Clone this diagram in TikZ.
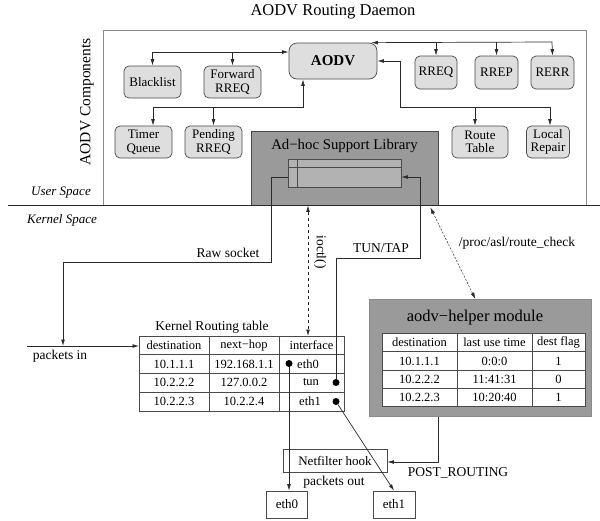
\documentclass[tikz,border=0pt]{standalone}
\usepackage{fontspec}
\setmainfont{Liberation Serif}
\usetikzlibrary{arrows.meta}
\definecolor{compfill}{HTML}{DEDEDE}
\definecolor{compline}{HTML}{4A4A4A}
\definecolor{darkfill}{HTML}{9A9A9A}
\definecolor{innerfill}{HTML}{B2B2B2}
\definecolor{framecol}{HTML}{8A8A8A}
\definecolor{linecol}{HTML}{2A2A2A}
\begin{document}
\begin{tikzpicture}[x=1pt,y=-1pt,
  >={Latex[length=6.5pt,width=3.8pt]},
  txt/.style={font=\fontsize{13.5}{15}\selectfont, inner sep=0pt},
  cell/.style={font=\fontsize{12.5}{14}\selectfont, inner sep=0pt},
  comp/.style={draw=compline, fill=compfill, rounded corners=5pt, line width=0.7pt,
    minimum height=32pt, align=center, inner sep=0pt, font=\fontsize{13}{13.5}\selectfont},
  plainbox/.style={draw=compline, fill=white, line width=0.7pt, inner sep=0pt,
    font=\fontsize{13}{14}\selectfont},
  conn/.style={draw=linecol, line width=0.7pt},
  dot/.style={circle, fill=black, inner sep=0pt, minimum size=7pt},
  gridline/.style={draw=compline, line width=0.7pt}
]
\useasboundingbox (0,0) rectangle (600,520);

% title and frame
\node[font=\fontsize{16.5}{18}\selectfont, inner sep=0pt] (title) at (333,12) {AODV Routing Daemon};
\draw[framecol, line width=0.8pt] (103,205) -- (103,30) -- (586,30) -- (586,205);
\node[rotate=90, font=\fontsize{15.5}{17}\selectfont, inner sep=0pt] (comps) at (87,102) {AODV Components};
\node[txt, font=\itshape\fontsize{13}{15}\selectfont] (us) at (61,193) {User Space};
\node[txt, font=\itshape\fontsize{13}{15}\selectfont] (ks) at (62,220) {Kernel Space};

% AODV components
\node[comp, rounded corners=8pt, minimum width=88pt, minimum height=36pt, font=\bfseries\fontsize{15}{16}\selectfont] (aodv) at (333,61) {AODV};
\node[comp, minimum width=57pt] (black) at (152.5,82) {Blacklist};
\node[comp, minimum width=57pt] (fwd) at (232.5,82) {Forward\\RREQ};
\node[comp, minimum width=57pt] (timer) at (143.5,142) {Timer\\Queue};
\node[comp, minimum width=57pt] (pend) at (213.5,142) {Pending\\RREQ};
\node[comp, minimum width=42pt, minimum height=33pt] (rreq) at (436,72.5) {RREQ};
\node[comp, minimum width=43pt, minimum height=33pt] (rrep) at (496.5,72.5) {RREP};
\node[comp, minimum width=43pt, minimum height=33pt] (rerr) at (552.5,72.5) {RERR};
\node[comp, minimum width=56pt] (rtab) at (480,142) {Route\\Table};
\node[comp, minimum width=43pt] (lrep) at (548,142) {Local\\Repair};

% component connectors
\coordinate (j1) at (153,52);
\draw[conn,<->] (black.north) |- ([yshift=9pt]aodv.west);
\draw[conn,->] (fwd.north |- j1) -- (fwd.north);
\coordinate (j2) at (153,107);
\coordinate (j3) at (303,107);
\draw[conn,<->] (timer.north -| j2) -- (j2) -- (j3) -- (aodv.south -| j3);
\draw[conn,->] (pend.north |- j2) -- (pend.north);
\coordinate (j4) at (552,42);
\draw[conn,<->] ([xshift=-6pt]aodv.north east) -- (j4) -- (rerr.north);
\draw[conn,->] (rreq.north |- j4) -- (rreq.north);
\draw[conn,->] (rrep.north |- j4) -- (rrep.north);
\coordinate (j5) at (400,107);
\coordinate (j6) at (550,107);
\draw[conn,<->] (aodv.east) -| (j5) -- (j6) -- (lrep.north -| j6);
\draw[conn,->] ([xshift=-5pt]rtab.north |- j5) -- ([xshift=-5pt]rtab.north);

% Ad-hoc support library
\node[draw=compline, fill=darkfill, line width=0.7pt, minimum width=187pt, minimum height=74pt, inner sep=0pt] (asl) at (344.5,168) {};
\node[txt, font=\fontsize{14.8}{16}\selectfont] (asltxt) at (344.5,145.5) {Ad−hoc Support Library};
\node[draw=compline, fill=innerfill, line width=0.7pt, minimum width=113pt, minimum height=28pt, inner sep=0pt] (buf) at (344.5,173) {};
\draw[gridline] ([xshift=10pt]buf.north west) -- ([xshift=10pt]buf.south west);
\draw[gridline] ([yshift=-9pt]buf.north west) -- ([yshift=-9pt]buf.north east);

% user/kernel separator
\draw[linecol, line width=0.8pt] (8,205) -- (600,205);

% kernel routing table
\node[txt] (ktitle) at (212,327) {Kernel Routing table};
\node[draw=compline, fill=white, line width=0.7pt, anchor=north west, minimum width=205pt, minimum height=75pt, inner sep=0pt] (ktab) at (139,336) {};
\draw[gridline] (209,336) -- (209,411);
\draw[gridline] (279,336) -- (279,411);
\draw[gridline] (139,354.5) -- (344,354.5);
\draw[gridline] (139,373) -- (344,373);
\draw[gridline] (139,392) -- (344,392);
\node[cell] (k01) at (174,345.5) {destination};
\node[cell] (k02) at (244,345.5) {next−hop};
\node[cell] (k03) at (311.5,345.5) {interface};
\node[cell] (k11) at (174,364) {10.1.1.1};
\node[cell] (k12) at (244,364) {192.168.1.1};
\node[cell] (k13) at (308,364) {eth0};
\node[cell] (k21) at (174,382.5) {10.2.2.2};
\node[cell] (k22) at (244,382.5) {127.0.0.2};
\node[cell] (k23) at (311,382.5) {tun};
\node[cell] (k31) at (174,401.5) {10.2.2.3};
\node[cell] (k32) at (244,401.5) {10.2.2.4};
\node[cell] (k33) at (310,401.5) {eth1};
\node[dot] (kd1) at (289,363.5) {};
\node[dot] (kd2) at (336,382.5) {};
\node[dot] (kd3) at (336,401.5) {};

% raw socket path
\coordinate (pin) at (63,346);
\coordinate (r1) at (271,262);
\draw[conn,->] ([yshift=-4pt]buf.west) -| (r1) -| (pin);
\node[txt] (rawlbl) at (228,253) {Raw socket};
\coordinate (pstart) at (27,346);
\draw[conn,->] (pstart) -- (pstart -| ktab.west);
\node[txt] (pinlbl) at (60,356) {packets in};

% TUN/TAP path
\coordinate (t1) at (420,258);
\draw[conn,->] (kd2) |- (t1) |- ([yshift=-4pt]buf.east);
\node[txt] (tunlbl) at (381,248) {TUN/TAP};

% ioctl
\draw[conn,<->,dashed] ([xshift=-36.5pt]asl.south) -- ([xshift=-36.5pt]asl.south |- ktab.north);
\node[txt, rotate=-90] (ioctl) at (320,252) {ioctl()};

% aodv-helper module
\node[draw=framecol, fill=darkfill, line width=0.7pt, anchor=north west, minimum width=222pt, minimum height=117pt, inner sep=0pt] (helper) at (369,299) {};
\node[txt, font=\fontsize{16.5}{18}\selectfont] (htitle) at (475,317.5) {aodv−helper module};
\node[draw=compline, fill=white, line width=0.7pt, anchor=north west, minimum width=203pt, minimum height=73pt, inner sep=0pt] (htab) at (382,333) {};
\draw[gridline] (457,333) -- (457,406);
\draw[gridline] (532,333) -- (532,406);
\draw[gridline] (382,351.5) -- (585,351.5);
\draw[gridline] (382,370) -- (585,370);
\draw[gridline] (382,388) -- (585,388);
\node[cell] (h01) at (419.5,342.5) {destination};
\node[cell] (h02) at (494.5,342.5) {last use time};
\node[cell] (h03) at (558.5,342.5) {dest flag};
\node[cell] (h11) at (419.5,361) {10.1.1.1};
\node[cell] (h12) at (494.5,361) {0:0:0};
\node[cell] (h13) at (558.5,361) {1};
\node[cell] (h21) at (419.5,379.5) {10.2.2.2};
\node[cell] (h22) at (494.5,379.5) {11:41:31};
\node[cell] (h23) at (558.5,379.5) {0};
\node[cell] (h31) at (419.5,397.5) {10.2.2.3};
\node[cell] (h32) at (494.5,397.5) {10:20:40};
\node[cell] (h33) at (558.5,397.5) {1};

% route_check
\draw[linecol, line width=0.5pt, dash pattern=on 2pt off 1.5pt, <->] ([xshift=-8pt,yshift=-2pt]asl.south east) -- ([xshift=-5pt]helper.north);
\node[txt] (rclbl) at (517,243) {/proc/asl/route\_check};

% netfilter and outputs
\node[plainbox, minimum width=104pt, minimum height=23pt] (nf) at (335,460.5) {Netfilter hook};
\node[txt] (pout) at (334,482) {packets out};
\node[plainbox, minimum width=41pt, minimum height=27pt] (eth0) at (287,504.5) {eth0};
\node[plainbox, minimum width=42pt, minimum height=27pt] (eth1) at (394,504.5) {eth1};
\draw[conn,->] (kd1) -- (kd1 |- eth0.north);
\draw[conn,->] (kd3) -- (eth1.north);
\coordinate (p1) at (438,462);
\draw[conn,->] (helper.south -| p1) -- (p1) -- (p1 -| nf.east);
\node[txt] (prlbl) at (458,473) {POST\_ROUTING};
\end{tikzpicture}
\end{document}
